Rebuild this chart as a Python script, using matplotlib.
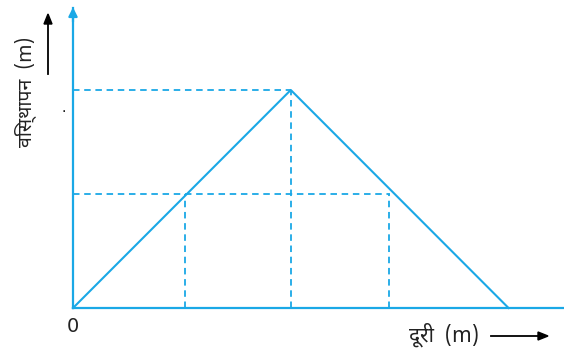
import matplotlib.pyplot as plt

# displacement-distance triangle
dist = [0, 10, 20]
disp = [0, 10, 0]

peak = (10, 10)
mid_y = 5.23
mid_x = [5.14, 14.5]

blue = "#1aa8e6"
hindi = ['Noto Sans Devanagari', 'DejaVu Sans']

fig = plt.figure(figsize=(5.64, 3.51), dpi=100)
ax = fig.add_axes([73 / 564, 43 / 351, 490 / 564, 300 / 351])
ax.set_xlim(0, 22.5)
ax.set_ylim(0, 13.76)
for s in ["top", "right"]:
    ax.spines[s].set_visible(False)
for s in ["left", "bottom"]:
    ax.spines[s].set_color(blue)
    ax.spines[s].set_linewidth(1.6)
ax.set_xticks([])
ax.set_yticks([])

ax.plot(dist, disp, color=blue, lw=1.5, clip_on=False)

dash = dict(color=blue, lw=1.3, ls=(0, (3.6, 2.6)))
ax.plot([0, peak[0]], [peak[1], peak[1]], **dash)
ax.plot([peak[0], peak[0]], [0, peak[1]], **dash)
ax.plot([0, mid_x[1] + 0.05], [mid_y, mid_y], **dash)
for x in mid_x:
    ax.plot([x, x], [0, mid_y], **dash)

# arrowhead on y axis
ax.annotate("", xy=(0, 13.92), xytext=(0, 13.0),
            arrowprops=dict(arrowstyle="-|>", color=blue, lw=1.6, mutation_scale=13),
            annotation_clip=False)

fig.text(73 / 564, 1 - 326 / 351, "0", fontsize=14, ha="center", va="center", color="#222222")
fig.text(25 / 564, 1 - 92 / 351, "विस्थापन  (m)", family=hindi, fontsize=14, rotation=90,
         ha="center", va="center", color="#222222")
fig.text(444 / 564, 1 - 335 / 351, "दूरी  (m)", family=hindi, fontsize=15,
         ha="center", va="center", color="#222222")
fig.text(64 / 564, 1 - 108 / 351, ".", fontsize=10, ha="center", va="center")

fig.add_artist(plt.Line2D([48 / 564, 48 / 564], [1 - 74 / 351, 1 - 22 / 351],
                          color="black", lw=1.3))
fig.patches.append(plt.Polygon([[44 / 564, 1 - 24 / 351], [52 / 564, 1 - 24 / 351],
                                [48 / 564, 1 - 14 / 351]], closed=True, color="black",
                               transform=fig.transFigure))
fig.add_artist(plt.Line2D([491 / 564, 540 / 564], [1 - 336 / 351, 1 - 336 / 351],
                          color="black", lw=1.3))
fig.patches.append(plt.Polygon([[538 / 564, 1 - 332 / 351], [538 / 564, 1 - 340 / 351],
                                [548 / 564, 1 - 336 / 351]], closed=True, color="black",
                               transform=fig.transFigure))

fig.savefig("out.png", dpi=100)
